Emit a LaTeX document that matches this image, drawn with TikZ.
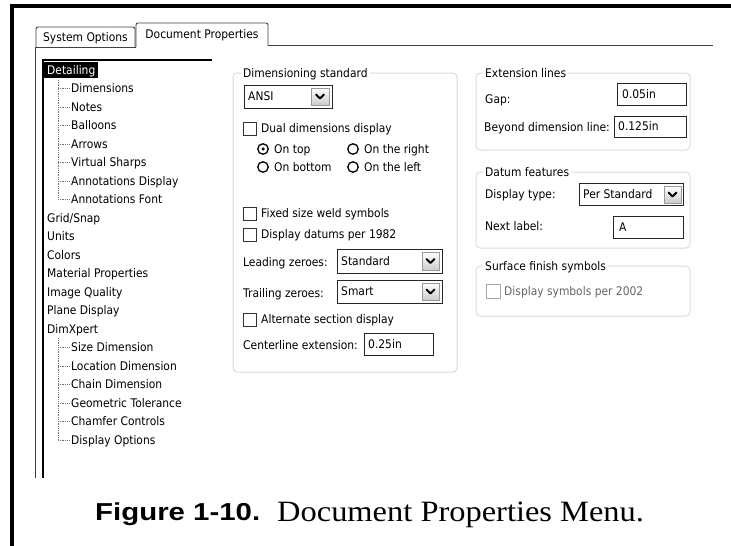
\documentclass[tikz,border=0pt]{standalone}
\usepackage{fontspec}
\setmainfont{DejaVu Sans}[FakeStretch=0.9]
\newfontfamily\capserif{Liberation Serif}
\newfontfamily\capsans{Liberation Sans}

\tikzset{
  ui/.style={font=\fontsize{11.9}{14}\selectfont, inner sep=0pt,
             text height=8.7pt, text depth=0pt, anchor=west},
  uisel/.style={ui, fill=black, text=white, inner xsep=3pt, inner ysep=4pt},
  grouptitle/.style={ui, fill=white, inner xsep=2pt, inner ysep=1pt},
  groupbox/.style={draw=black!14, line width=1pt, rounded corners=4pt},
  fieldbox/.style={draw=black!85, line width=1pt, fill=white},
  tickbox/.style={draw=black!80, line width=1pt, fill=white},
  offbox/.style={draw=black!35, line width=1pt, fill=white},
  radiobtn/.style={circle, draw=black, line width=1.3pt, minimum size=10.5pt, inner sep=0pt},
  raddot/.style={circle, fill=black, minimum size=3.5pt, inner sep=0pt},
  ddbutton/.style={draw=black!40, line width=0.6pt, top color=white, bottom color=black!20},
  ddarrow/.style={line width=2pt, line cap=round, line join=round},
  treeline/.style={draw=black!55, densely dotted, line width=0.8pt},
  tabedge/.style={draw=black!75, line width=0.9pt},
  frame/.style={line width=4pt},
}

\begin{document}
\begin{tikzpicture}[x=1pt, y=-1pt]
\useasboundingbox (0,0) rectangle (731,546);
\fill[white] (0,0) rectangle (731,546);

% outer frame: top and left rules
\draw[frame] (10,6) -- (731,6);
\draw[frame] (12,4) -- (12,546);

% tabs
\draw[tabedge, rounded corners=2pt] (36,47) -- (36,27) -- (135,27) -- (135,47);
\node[ui, anchor=center] (tabsys) at (85.5,37.5) {System Options};
\draw[tabedge, rounded corners=2pt] (136,47) -- (136,23) -- (268,23) -- (268,45.5);
\node[ui, anchor=center] (tabdoc) at (202,34.5) {Document Properties};
\draw[tabedge] (35,47) -- (136,47);
\draw[tabedge] (268,45.5) -- (713,45.5);
\draw[tabedge] (35,47) -- (35,478);

% tree view frame
\draw[line width=2.2pt] (43,478) -- (43,60) -- (212,60);

% tree entries
\node[uisel] (detailing) at (44,70) {Detailing};
\foreach \name/\txt/\yy in {dim/Dimensions/88.5, notes/Notes/107, balloons/Balloons/125.5,
    arrows/Arrows/144, sharps/Virtual Sharps/162.5, anndisp/Annotations Display/181,
    annfont/Annotations Font/199.5}{
  \node[ui] (\name) at (71,\yy) {\txt};
  \draw[treeline] (58,\yy) -- (69,\yy);
}
\draw[treeline] (58,80) -- (58,199.5);
\foreach \name/\txt/\yy in {grid/Grid\slash Snap/218, units/Units/236.5, colors/Colors/255,
    material/Material Properties/273.5, quality/Image Quality/292, plane/Plane Display/310.5,
    dimxpert/DimXpert/329}{
  \node[ui] (\name) at (47,\yy) {\txt};
}
\foreach \name/\txt/\yy in {sizedim/Size Dimension/347.5, locdim/Location Dimension/366,
    chaindim/Chain Dimension/384.5, geotol/Geometric Tolerance/403,
    chamfer/Chamfer Controls/421.5, dispopt/Display Options/440}{
  \node[ui] (\name) at (71,\yy) {\txt};
  \draw[treeline] (58,\yy) -- (69,\yy);
}
\draw[treeline] (58,338) -- (58,440);

% ---- Dimensioning standard group ----
\draw[groupbox] (233,73) rectangle (457,372);
\node[grouptitle] (dimstd) at (241,73) {Dimensioning standard};

\draw[fieldbox] (244,85) rectangle (332,108);
\node[ui] (ansi) at (248,96.5) {ANSI};
\draw[ddbutton] (311,88) rectangle (329,105);
\draw[ddarrow] (316,94.5) -- (320,98.5) -- (324,94.5);

\draw[tickbox] (243,122) rectangle (256,135);
\node[ui] (dual) at (261,128.5) {Dual dimensions display};

\node[radiobtn] (rtop) at (263,149) {};
\node[raddot] at (rtop) {};
\node[ui] (ontop) at (274,149) {On top};
\node[radiobtn] (rright) at (353,149) {};
\node[ui] (onright) at (364,149) {On the right};
\node[radiobtn] (rbottom) at (263,167) {};
\node[ui] (onbottom) at (274,167) {On bottom};
\node[radiobtn] (rleft) at (353,167) {};
\node[ui] (onleft) at (364,167) {On the left};

\draw[tickbox] (243,207) rectangle (256,220);
\node[ui] (weld) at (261,213.5) {Fixed size weld symbols};
\draw[tickbox] (243,228) rectangle (256,241);
\node[ui] (datums) at (261,234.5) {Display datums per 1982};

\node[ui] (leading) at (243,262) {Leading zeroes:};
\draw[fieldbox] (337,249) rectangle (442,273);
\node[ui] (standard) at (341,261) {Standard};
\draw[ddbutton] (422,252) rectangle (439,270);
\draw[ddarrow] (426.5,259) -- (430.5,263) -- (434.5,259);

\node[ui] (trailing) at (243,293) {Trailing zeroes:};
\draw[fieldbox] (337,280) rectangle (442,303);
\node[ui] (smart) at (341,291.5) {Smart};
\draw[ddbutton] (422,283) rectangle (439,300);
\draw[ddarrow] (426.5,289.5) -- (430.5,293.5) -- (434.5,289.5);

\draw[tickbox] (243,313) rectangle (256,326);
\node[ui] (altsec) at (261,319.5) {Alternate section display};

\node[ui] (centerline) at (243,345.5) {Centerline extension:};
\draw[fieldbox] (364,333) rectangle (433,355);
\node[ui] (clval) at (368,344) {0.25in};

% ---- Extension lines group ----
\draw[groupbox] (476,73) rectangle (690,150);
\node[grouptitle] (extlines) at (483,73) {Extension lines};
\node[ui] (gap) at (485,99) {Gap:};
\draw[fieldbox] (617,83) rectangle (686,105);
\node[ui] (gapval) at (622,94) {0.05in};
\node[ui] (beyond) at (484,127) {Beyond dimension line:};
\draw[fieldbox] (614,116) rectangle (686,137);
\node[ui] (beyondval) at (618,126.5) {0.125in};

% ---- Datum features group ----
\draw[groupbox] (476,172) rectangle (690,248);
\node[grouptitle] (datum) at (483,172) {Datum features};
\node[ui] (disptype) at (485,194) {Display type:};
\draw[fieldbox] (579,183) rectangle (683,205);
\node[ui] (perstd) at (583,194) {Per Standard};
\draw[ddbutton] (664,186) rectangle (681,203);
\draw[ddarrow] (668.5,192.5) -- (672.5,196.5) -- (676.5,192.5);
\node[ui] (nextlabel) at (485,226) {Next label:};
\draw[fieldbox] (613,216) rectangle (683,238);
\node[ui] (nextval) at (619,227) {A};

% ---- Surface finish symbols group ----
\draw[groupbox] (476,266) rectangle (690,316);
\node[grouptitle] (surface) at (483,266) {Surface finish symbols};
\draw[offbox] (486,284) rectangle (500,298);
\node[ui, text=black!60] (sym2002) at (504,291) {Display symbols per 2002};

% caption
\node[anchor=base west, inner sep=0pt] (figno) at (95,520)
  {\scalebox{1.2}[1]{\capsans\bfseries\fontsize{24.5}{28}\selectfont Figure 1-10.}};
\node[anchor=base west, inner sep=0pt] (figtitle) at (277,521)
  {\scalebox{1.1}[1]{\capserif\fontsize{29.5}{33}\selectfont Document Properties Menu.}};
\end{tikzpicture}
\end{document}
